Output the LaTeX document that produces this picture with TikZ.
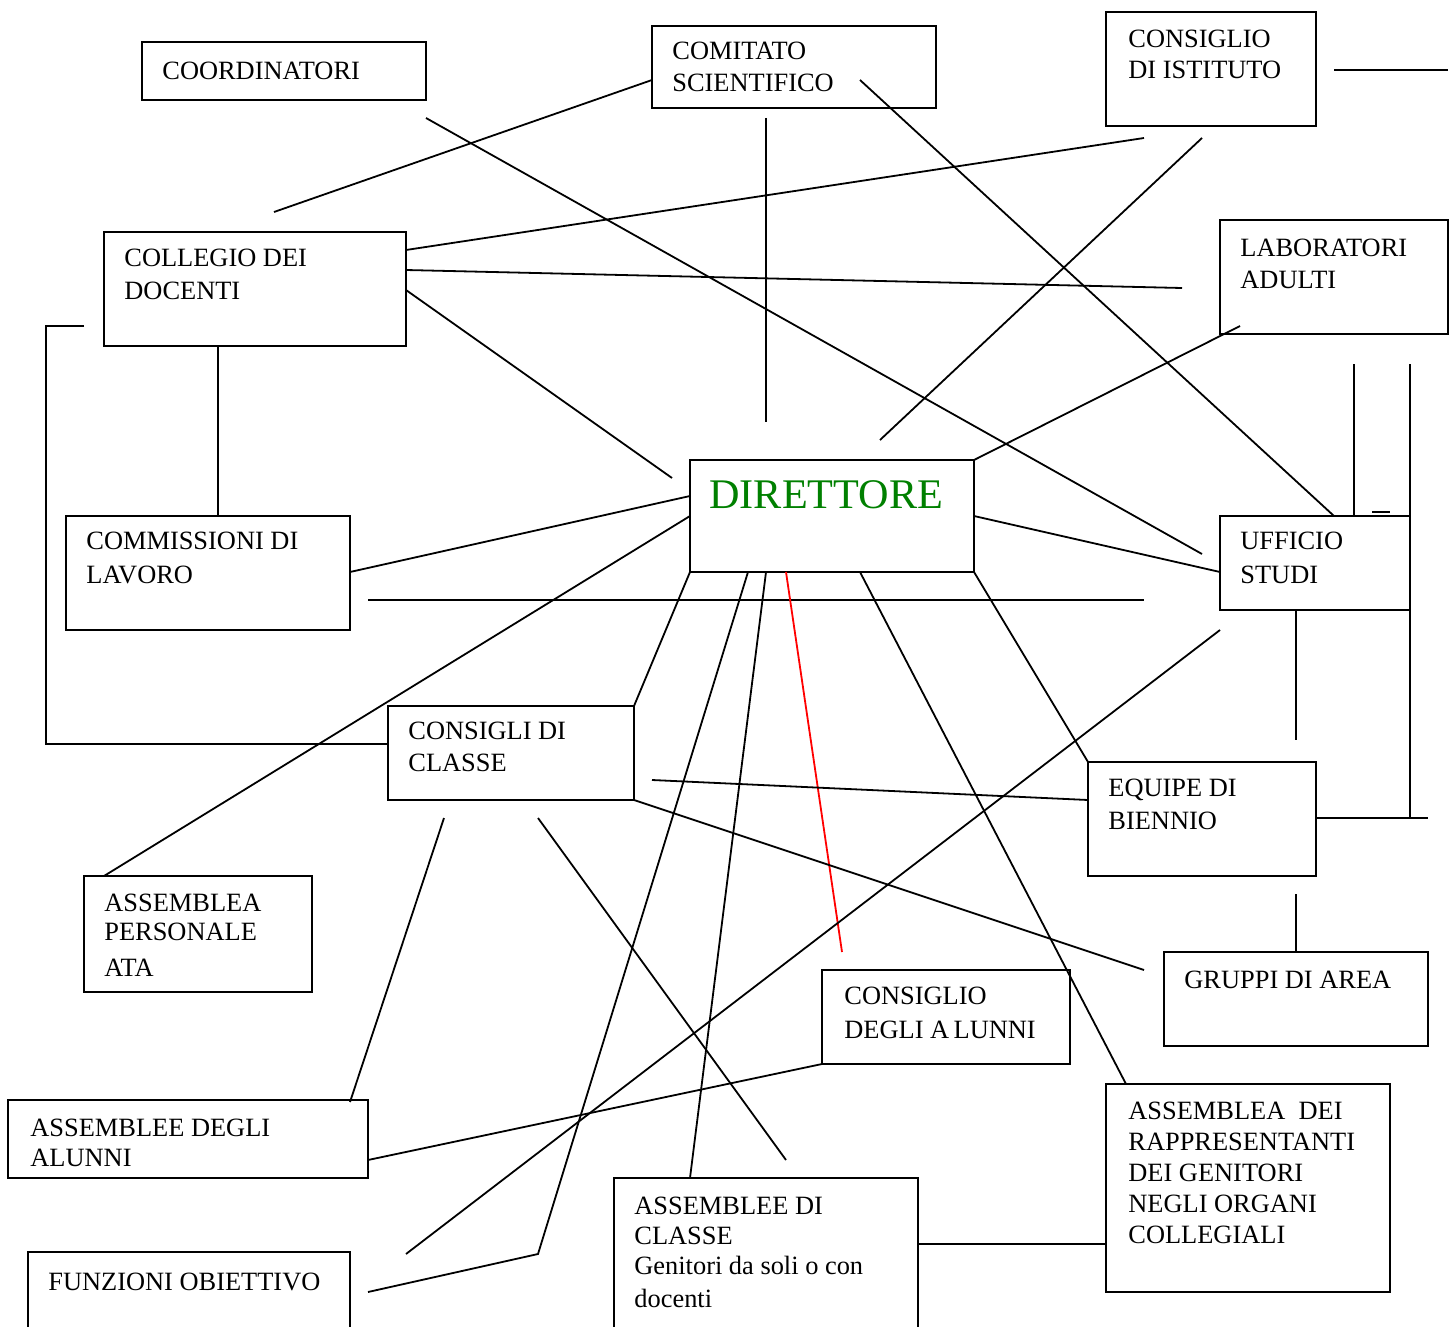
\documentclass[tikz,border=0pt]{standalone}
\usepackage{fontspec}
\setmainfont{Liberation Serif}
\definecolor{dirgreen}{RGB}{0,128,0}
\tikzset{
  box/.style={line width=1pt},
  link/.style={line width=0.9pt},
  txt/.style={anchor=north west, inner sep=0pt, align=left, font=\fontsize{13.2}{#1}\selectfont},
  txt/.default=16
}
\begin{document}
\begin{tikzpicture}[x=0.5pt,y=-0.5pt]
\useasboundingbox (0,0) rectangle (1456,1327);
% boxes
\draw[box] (142,42) rectangle (426,100);
\draw[box] (652,26) rectangle (936,108);
\draw[box] (1106,12) rectangle (1316,126);
\draw[box] (104,232) rectangle (406,346);
\draw[box] (1220,220) rectangle (1448,334);
\draw[box] (690,460) rectangle (974,572);
\draw[box] (1220,516) rectangle (1410,610);
\draw[box] (66,516) rectangle (350,630);
\draw[box] (388,706) rectangle (634,800);
\draw[box] (1088,762) rectangle (1316,876);
\draw[box] (84,876) rectangle (312,992);
\draw[box] (1164,952) rectangle (1428,1046);
\draw[box] (822,970) rectangle (1070,1064);
\draw[box] (1106,1084) rectangle (1390,1292);
\draw[box] (8,1100) rectangle (368,1178);
\draw[box] (28,1327) |- (350,1252) -- (350,1327);
\draw[box] (614,1327) |- (918,1178) -- (918,1327);
% texts
\node[txt] (coord) at (162,62) {COORDINATORI};
\node[txt] (comit) at (672,42) {COMITATO\\SCIENTIFICO};
\node[txt=15.5] (cdi) at (1128,30) {CONSIGLIO\\DI ISTITUTO};
\node[txt=16.5] (coll) at (124,249) {COLLEGIO DEI\\DOCENTI};
\node[txt] (lab) at (1240,239) {LABORATORI\\ADULTI};
\node[anchor=north west, inner sep=0pt, font=\fontsize{21.1}{25}\selectfont, text=dirgreen] (dir) at (709,480) {DIRETTORE};
\node[txt=17] (uff) at (1240,532) {UFFICIO\\STUDI};
\node[txt=17] (comm) at (86,532) {COMMISSIONI DI\\LAVORO};
\node[txt] (ccl) at (408,722) {CONSIGLI DI\\CLASSE};
\node[txt=16.5] (equ) at (1108,779) {EQUIPE DI\\BIENNIO};
\node[txt=14.5] (ata) at (104,894) {ASSEMBLEA\\PERSONALE\\[3.5pt]ATA};
\node[txt] (grup) at (1184,971) {GRUPPI DI AREA};
\node[txt=17] (cda) at (844,987) {CONSIGLIO\\DEGLI A\,LUNNI};
\node[txt=15.5] (rapp) at (1128,1102) {ASSEMBLEA\ \ DEI\\RAPPRESENTANTI\\DEI GENITORI\\NEGLI ORGANI\\COLLEGIALI};
\node[txt=15] (ada) at (30,1119) {ASSEMBLEE DEGLI\\ALUNNI};
\node[txt] (funz) at (48,1273) {FUNZIONI OBIETTIVO};
\node[txt=15] (adc) at (634,1197) {ASSEMBLEE DI\\CLASSE\\Genitori da soli o con\\[1.5pt]docenti};
% line ends
\coordinate (comL) at (652,80);   \coordinate (colT) at (274,212);
\coordinate (corR) at (426,118);  \coordinate (uffA) at (1202,554);
\coordinate (colA) at (406,250);  \coordinate (cdiA) at (1144,138);
\coordinate (colB) at (406,270);  \coordinate (labA) at (1182,288);
\coordinate (colC) at (406,290);  \coordinate (dirA) at (672,478);
\coordinate (comB) at (766,118);  \coordinate (dirB) at (766,422);
\coordinate (comC) at (860,80);   \coordinate (uffB) at (1334,516);
\coordinate (cdiB) at (1202,138); \coordinate (dirC) at (880,440);
\coordinate (labB) at (1240,326); \coordinate (dirD) at (974,460);
\coordinate (cdiR) at (1334,70);  \coordinate (cdiE) at (1448,70);
\coordinate (vA) at (1354,364);   \coordinate (uffC) at (1354,516);
\coordinate (vB) at (1410,364);   \coordinate (vC) at (1410,818);
\coordinate (dA) at (1372,512);   \coordinate (dB) at (1390,512);
\coordinate (equR) at (1316,818); \coordinate (equE) at (1428,818);
\coordinate (uffD) at (1296,610); \coordinate (uffE) at (1296,740);
\coordinate (dirE) at (974,516);  \coordinate (uffF) at (1220,572);
\coordinate (colD) at (218,346);  \coordinate (commT) at (218,516);
\coordinate (brA) at (84,326);    \coordinate (brB) at (46,744);   \coordinate (cclL) at (388,744);
\coordinate (commR) at (350,572); \coordinate (dirF) at (690,496);
\coordinate (hA) at (368,600);    \coordinate (hB) at (1144,600);
\coordinate (dirG) at (690,516);  \coordinate (ataT) at (104,876);
\coordinate (dirH) at (690,572);  \coordinate (cclT) at (634,706);
\coordinate (dirI) at (748,572);  \coordinate (kA) at (538,1254);  \coordinate (funzR) at (368,1292);
\coordinate (dirJ) at (766,572);  \coordinate (adcT) at (690,1178);
\coordinate (dirK) at (786,572);  \coordinate (cdaT) at (842,952);
\coordinate (dirL) at (860,572);  \coordinate (rappT) at (1126,1084);
\coordinate (dirM) at (974,572);  \coordinate (equT) at (1088,762);
\coordinate (cclA) at (652,780);  \coordinate (equL) at (1088,800);
\coordinate (cclB) at (634,800);  \coordinate (grupL) at (1144,970);
\coordinate (cclC) at (444,818);  \coordinate (adaT) at (350,1102);
\coordinate (cclD) at (538,818);  \coordinate (adcA) at (786,1160);
\coordinate (uffG) at (1220,630); \coordinate (funzA) at (406,1254);
\coordinate (cdaL) at (822,1064); \coordinate (adaR) at (368,1160);
\coordinate (adcR) at (918,1244); \coordinate (rappL) at (1106,1244);
\coordinate (equB) at (1296,894); \coordinate (grupT) at (1296,952);
% connectors
\draw[link] (comL) -- (colT);
\draw[link] (corR) -- (uffA);
\draw[link] (colA) -- (cdiA);
\draw[link] (colB) -- (labA);
\draw[link] (colC) -- (dirA);
\draw[link] (comB) -- (dirB);
\draw[link] (comC) -- (uffB);
\draw[link] (cdiB) -- (dirC);
\draw[link] (labB) -- (dirD);
\draw[link] (cdiR) -- (cdiE);
\draw[link] (vA) -- (uffC);
\draw[link] (vB) -- (vC);
\draw[link] (dA) -- (dB);
\draw[link] (equR) -- (equE);
\draw[link] (uffD) -- (uffE);
\draw[link] (dirE) -- (uffF);
\draw[link] (colD) -- (commT);
\draw[link] (brA) -| (brB) -- (cclL);
\draw[link] (commR) -- (dirF);
\draw[link] (hA) -- (hB);
\draw[link] (dirG) -- (ataT);
\draw[link] (dirH) -- (cclT);
\draw[link] (dirI) -- (kA) -- (funzR);
\draw[link] (dirJ) -- (adcT);
\draw[link, red] (dirK) -- (cdaT);
\draw[link] (dirL) -- (rappT);
\draw[link] (dirM) -- (equT);
\draw[link] (cclA) -- (equL);
\draw[link] (cclB) -- (grupL);
\draw[link] (cclC) -- (adaT);
\draw[link] (cclD) -- (adcA);
\draw[link] (uffG) -- (funzA);
\draw[link] (cdaL) -- (adaR);
\draw[link] (adcR) -- (rappL);
\draw[link] (equB) -- (grupT);
\end{tikzpicture}
\end{document}
